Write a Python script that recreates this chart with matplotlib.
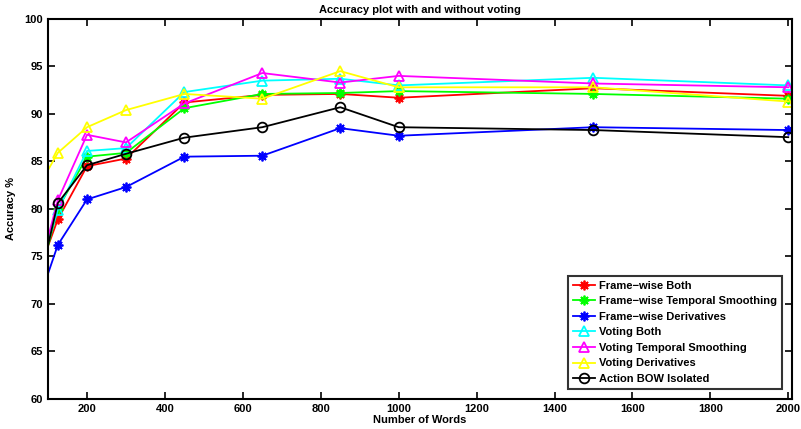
import matplotlib.pyplot as plt

plt.rcParams['font.family'] = ['Liberation Sans', 'DejaVu Sans']
plt.rcParams['font.weight'] = 'bold'

# number of words
words = [100, 125, 200, 300, 450, 650, 850, 1000, 1500, 2000]

# accuracy values (%)
fw_both = [76.1, 78.9, 84.5, 85.3, 91.2, 92.0, 92.1, 91.7, 92.7, 91.9]
fw_smooth = [76.1, 80.0, 85.5, 85.9, 90.6, 92.1, 92.2, 92.4, 92.1, 91.6]
fw_deriv = [73.2, 76.2, 81.0, 82.3, 85.5, 85.6, 88.5, 87.7, 88.6, 88.3]
vote_both = [76.5, 79.9, 86.1, 86.4, 92.3, 93.5, 93.7, 93.0, 93.8, 93.0]
vote_smooth = [77.0, 80.9, 87.8, 87.0, 91.1, 94.3, 93.3, 94.0, 93.2, 92.8]
vote_deriv = [84.1, 85.9, 88.6, 90.4, 92.1, 91.6, 94.5, 92.8, 92.8, 91.3]
bow_isolated = [76.2, 80.6, 84.6, 85.8, 87.5, 88.6, 90.7, 88.6, 88.3, 87.55]

labels = ['Frame\u2212wise Both', 'Frame\u2212wise Temporal Smoothing',
          'Frame\u2212wise Derivatives', 'Voting Both',
          'Voting Temporal Smoothing', 'Voting Derivatives',
          'Action BOW Isolated']

fig = plt.figure(figsize=(8.01, 4.29), dpi=100)
ax = fig.add_axes([0.06, 0.07, 0.929, 0.886])

star = (8, 2, 0)
every = slice(1, None)
ax.plot(words, fw_both, '-', marker=star, color='#ff0000', label=labels[0],
        lw=1.3, ms=7, mew=1.3, markevery=every)
ax.plot(words, fw_smooth, '-', marker=star, color='#00ff00', label=labels[1],
        lw=1.3, ms=7, mew=1.3, markevery=every)
ax.plot(words, fw_deriv, '-', marker=star, color='#0000ff', label=labels[2],
        lw=1.3, ms=7, mew=1.3, markevery=every)
ax.plot(words, vote_both, '-^', color='#00ffff', label=labels[3], lw=1.3, ms=7.5,
        mfc='none', mew=1.3, markevery=every)
ax.plot(words, vote_smooth, '-^', color='#ff00ff', label=labels[4], lw=1.3,
        ms=7.5, mfc='none', mew=1.3, markevery=every)
ax.plot(words, vote_deriv, '-^', color='#ffff00', label=labels[5], lw=1.3,
        ms=7.5, mfc='none', mew=1.3, markevery=every)
ax.plot(words, bow_isolated, '-o', color='black', label=labels[6], lw=1.3,
        ms=7, mfc='none', mew=1.3, markevery=every)

ax.set_xlim(100, 2010)
ax.set_ylim(60, 100)
ax.set_xticks(range(200, 2001, 200))
ax.set_yticks(range(60, 101, 5))
ax.tick_params(direction='in', top=True, right=True, labelsize=8, length=5,
               width=1.2)
for s in ax.spines.values():
    s.set_linewidth(1.5)

ax.set_title('Accuracy plot with and without voting', fontsize=8,
             fontweight='bold', pad=4)
ax.set_xlabel('Number of Words', fontsize=8, fontweight='bold', labelpad=1)
ax.set_ylabel('Accuracy %', fontsize=8, fontweight='bold', labelpad=6)

leg = ax.legend(loc='lower right', fontsize=8, frameon=True, fancybox=False,
                borderaxespad=0.9, handlelength=2.0, labelspacing=0.5,
                borderpad=0.45, handletextpad=0.4)
leg.get_frame().set_edgecolor('black')
leg.get_frame().set_linewidth(1.5)

fig.savefig('out.png', dpi=100)
